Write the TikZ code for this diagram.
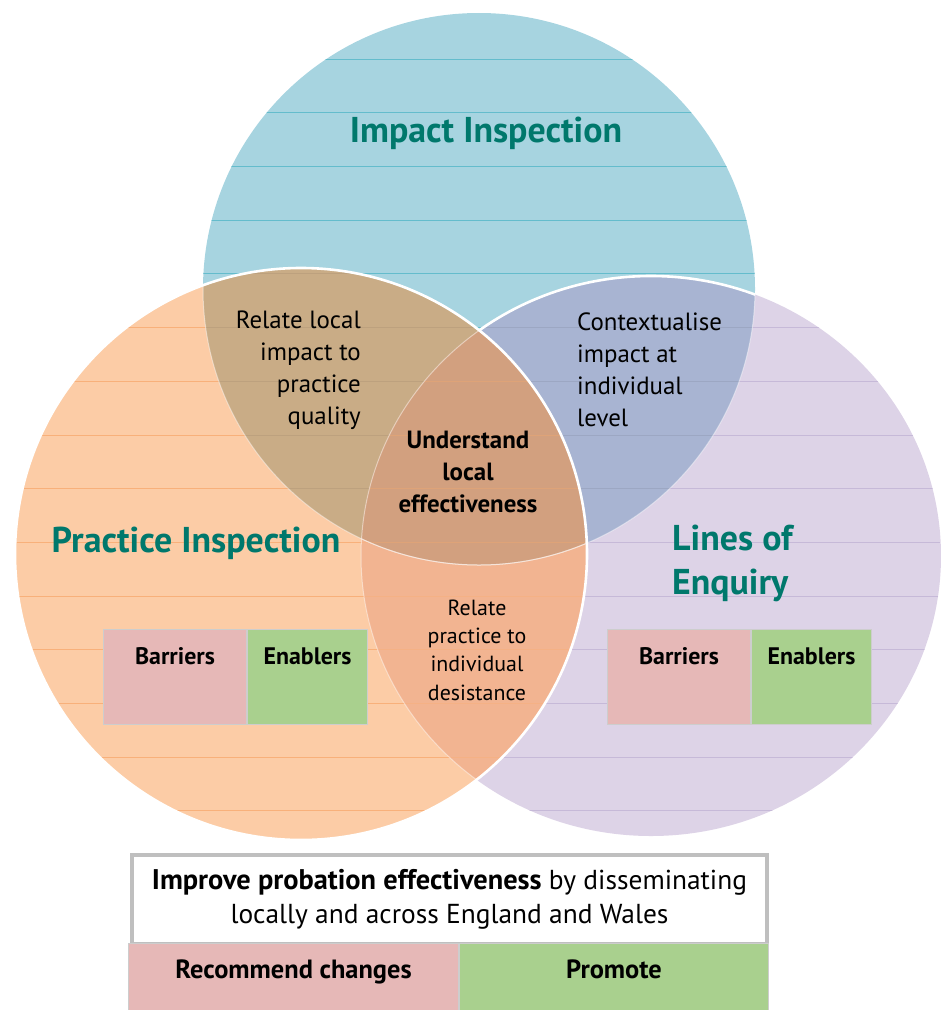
\documentclass[tikz,border=0pt]{standalone}
\usepackage{fontspec}
\setmainfont{PT Sans}
\begin{document}
\begin{tikzpicture}[x=1bp,y=-1bp]
\definecolor{bluef}{RGB}{167,212,224}
\definecolor{bluel}{RGB}{100,188,204}
\definecolor{oraf}{RGB}{252,204,166}
\definecolor{oral}{RGB}{248,176,122}
\definecolor{purf}{RGB}{221,211,231}
\definecolor{purl}{RGB}{198,185,216}
\definecolor{bof}{RGB}{201,172,134}
\definecolor{bpf}{RGB}{168,180,210}
\definecolor{opf}{RGB}{242,180,145}
\definecolor{cenf}{RGB}{210,160,127}
\definecolor{tealc}{RGB}{0,120,108}
\definecolor{pinkf}{RGB}{230,184,183}
\definecolor{greenf}{RGB}{169,208,142}
\definecolor{boxl}{RGB}{205,205,205}
\definecolor{frame}{RGB}{191,191,191}
\tikzset{
  hline/.style={line width=0.8bp},
  outl/.style={white, line width=2.6bp},
  faint/.style={white, opacity=0.45, line width=1bp},
  title/.style={font=\bfseries\fontsize{36}{44}\selectfont, text=tealc, inner sep=0pt},
  lbl/.style={font=\fontsize{25}{32}\selectfont, inner sep=0pt},
  blbl/.style={font=\bfseries\fontsize{25}{32}\selectfont, inner sep=0pt, align=center},
  slbl/.style={font=\fontsize{22}{28.5}\selectfont, inner sep=0pt, align=center},
  cell/.style={draw=boxl, line width=1bp, anchor=north west, inner sep=0pt,
    font=\bfseries\fontsize{24}{30}\selectfont, text height=35bp, text depth=60bp},
  bcell/.style={draw=boxl, line width=1bp, anchor=north west, inner sep=0pt,
    font=\bfseries\fontsize{26.5}{30}\selectfont, text height=35bp, text depth=33bp},
}
\useasboundingbox (0,0) rectangle (941,1010);
\def\pB{(479,289) circle[radius=276bp]}
\def\pO{(301,554) circle[radius=286bp]}
\def\pP{(651,556) ellipse[x radius=290bp, y radius=280bp]}
\def\hlines{\foreach \k in {0,...,14}{\draw[hline] (0,{59+53.7*\k}) -- (941,{59+53.7*\k});}}
% base circles
\fill[bluef] \pB;
\begin{scope}\clip \pB; \begin{scope}[bluel]\hlines\end{scope}\end{scope}
\fill[purf] \pP;
\begin{scope}\clip \pP; \begin{scope}[purl]\hlines\end{scope}\end{scope}
\fill[oraf] \pO;
\begin{scope}\clip \pO; \begin{scope}[oral]\hlines\end{scope}\end{scope}
% blue & purple
\begin{scope}\clip \pB; \fill[bpf] \pP; \clip \pP; \begin{scope}[black, opacity=0.07]\hlines\end{scope}\end{scope}
\begin{scope}\clip \pB; \draw[outl] \pP; \end{scope}
% overlaps with orange
\begin{scope}\clip \pB; \fill[bof] \pO; \end{scope}
\begin{scope}\clip \pP; \fill[opf] \pO; \end{scope}
\begin{scope}\clip \pB; \clip \pP; \fill[cenf] \pO; \end{scope}
\begin{scope}\clip \pO; \clip \pB; \begin{scope}[black, opacity=0.06]\hlines\end{scope}\end{scope}
\begin{scope}\clip \pO; \clip \pP; \begin{scope}[oral, opacity=0.5]\hlines\end{scope}\end{scope}
\begin{scope}\clip \pO; \draw[faint] \pP; \draw[faint] \pB; \end{scope}
\begin{scope}\clip \pP; \draw[faint] \pB; \end{scope}
\draw[outl] \pO;
% titles
\node[title] (imp) at (486,133) {Impact Inspection};
\node[title] (prac) at (196,543) {Practice Inspection};
\node[title, align=left, anchor=west] (loe) at (672,563) {Lines of\\Enquiry};
% overlap labels
\node[lbl, align=right, anchor=east] (rl) at (361,370) {Relate local\\impact to\\practice\\quality};
\node[lbl, align=left, anchor=west] (ci) at (577,370) {Contextualise\\impact at\\individual\\level};
\node[blbl] (ul) at (468,472) {Understand\\local\\effectiveness};
\node[slbl] (rp) at (477,650) {Relate\\practice to\\individual\\desistance};
% barrier / enabler cells
\node[cell, fill=pinkf, minimum width=143bp] (b1) at (103,629) {Barriers};
\node[cell, fill=greenf, minimum width=120bp, anchor=north west] (e1) at (b1.north east) {Enablers};
\node[cell, fill=pinkf, minimum width=143bp] (b2) at (607,629) {Barriers};
\node[cell, fill=greenf, minimum width=120bp, anchor=north west] (e2) at (b2.north east) {Enablers};
% bottom box
\node[draw=frame, line width=4bp, fill=white, minimum width=635bp, minimum height=89bp,
  inner sep=0pt, align=center, font=\fontsize{27.5}{34}\selectfont, anchor=north west] (imp2) at (130,853)
  {{\fontsize{28.5}{34}\selectfont\textbf{Improve probation effectiveness}} by disseminating\\locally and across England and Wales};
\node[bcell, fill=pinkf, minimum width=330bp] (rc) at (128,943) {Recommend changes};
\node[bcell, fill=greenf, minimum width=309bp, anchor=north west] (pr) at (rc.north east) {Promote};
\end{tikzpicture}
\end{document}
